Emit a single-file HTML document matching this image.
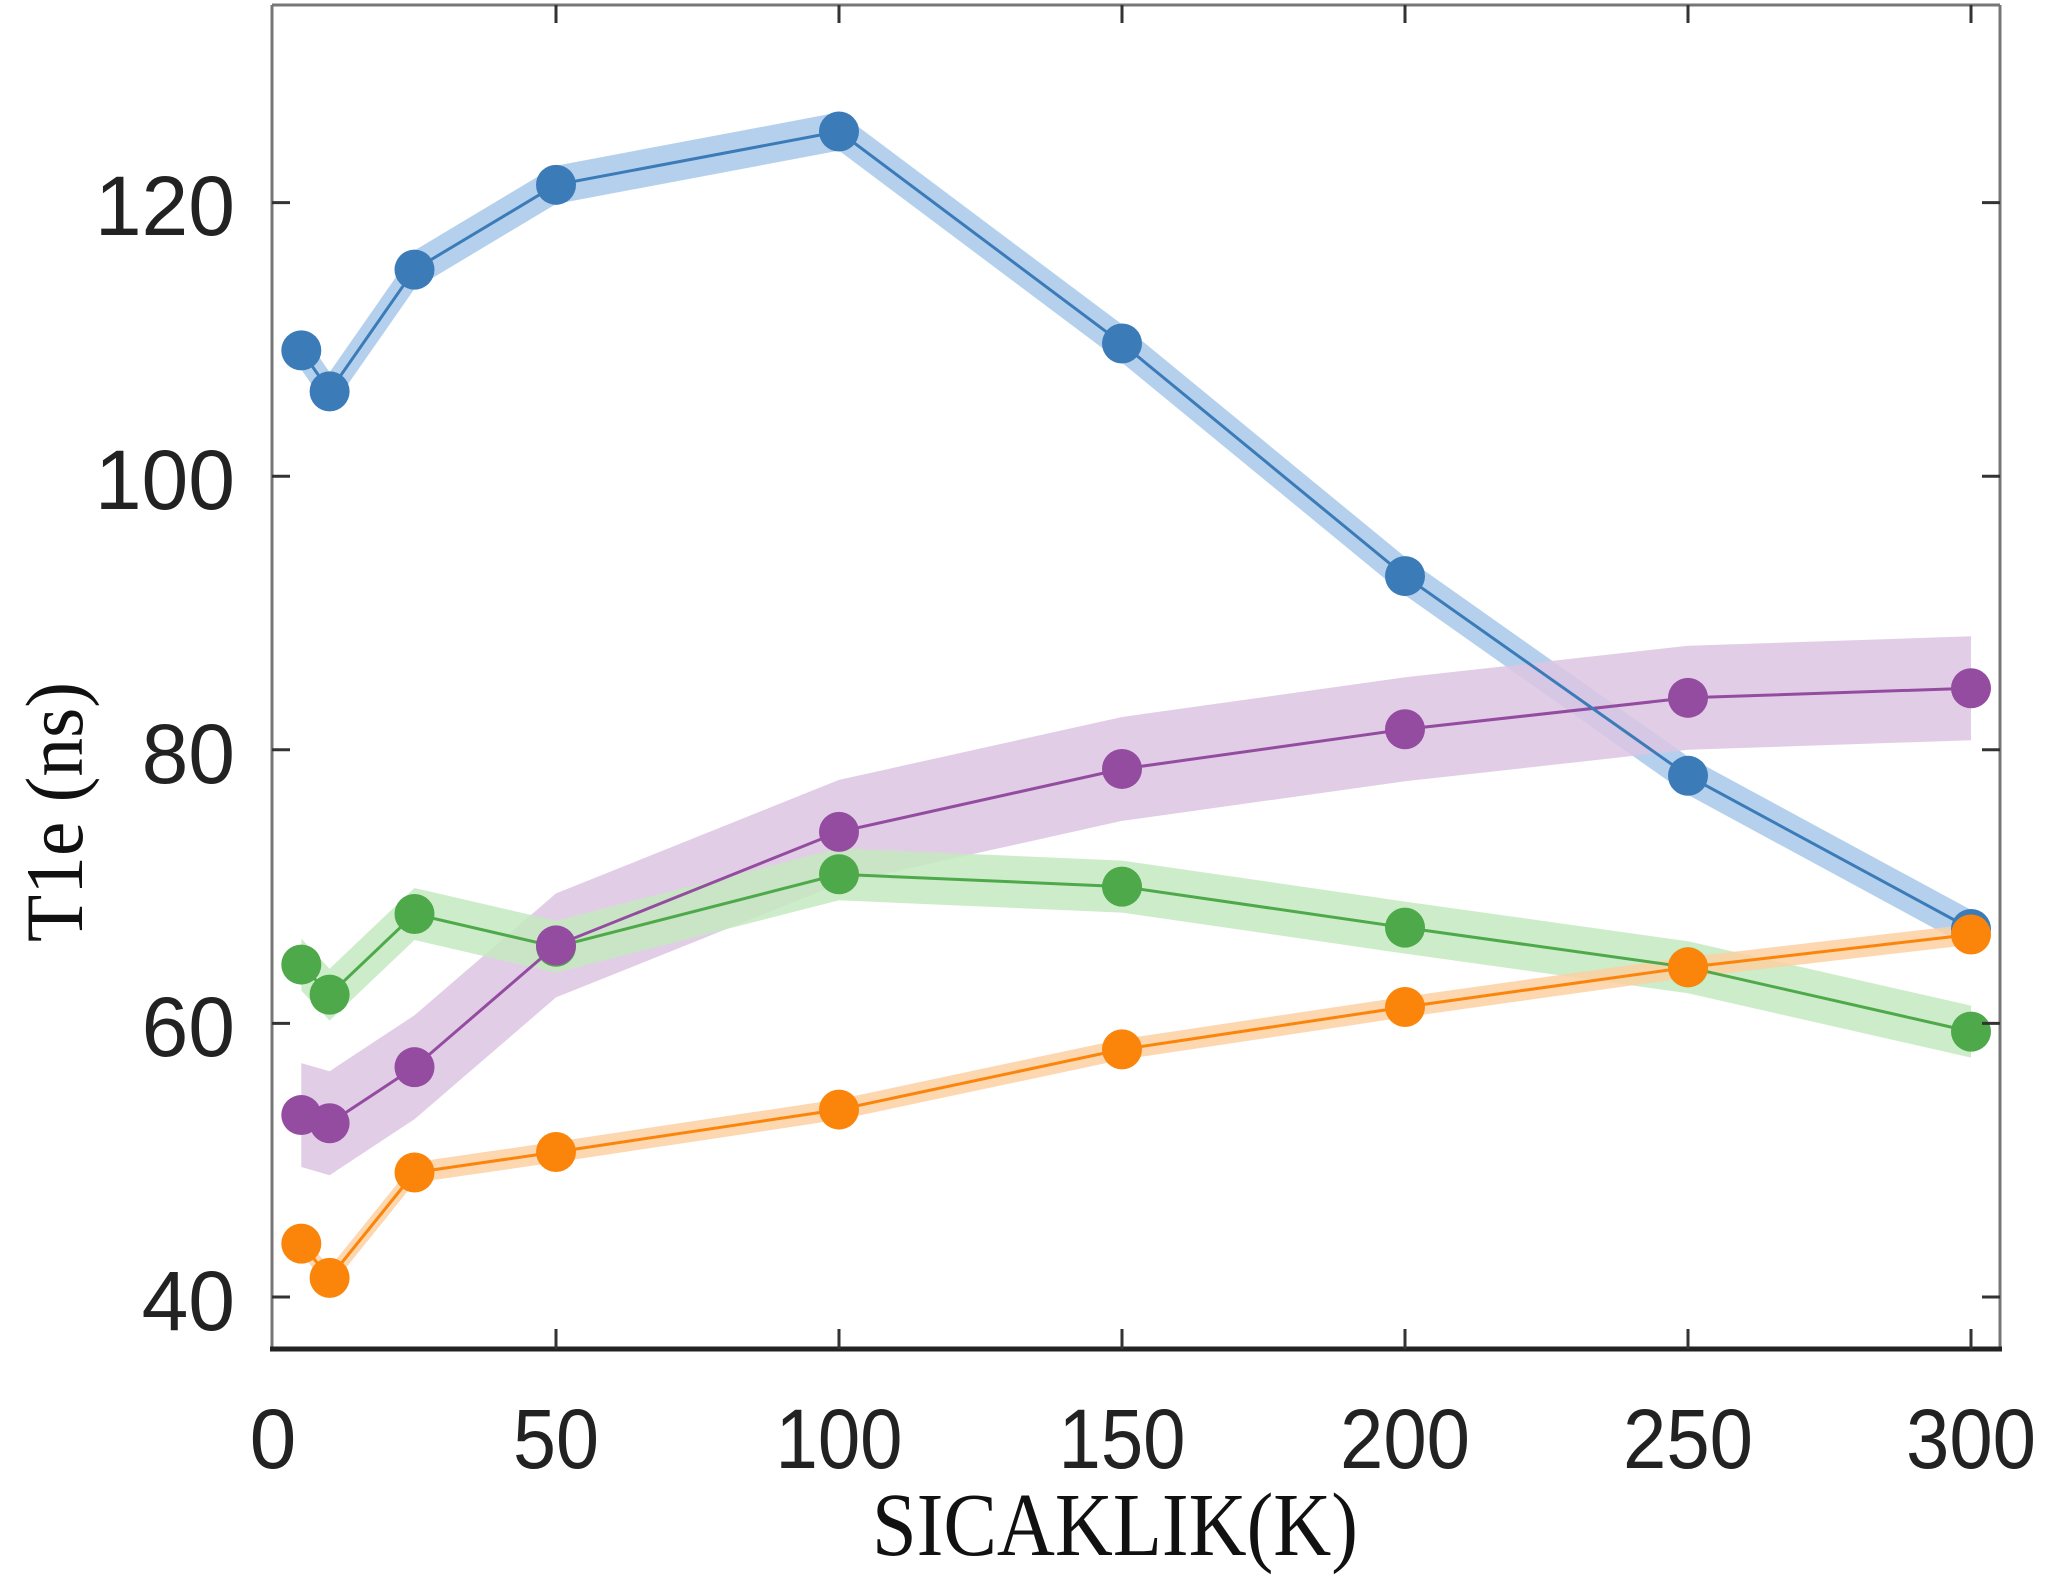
<!DOCTYPE html>
<html><head><meta charset="utf-8"><style>
html,body{margin:0;padding:0;background:#fff;}
svg{display:block;}
</style></head><body>
<svg id="s" width="2048" height="1594" viewBox="0 0 2048 1594" xmlns="http://www.w3.org/2000/svg">
<rect width="2048" height="1594" fill="#fff"/>
<g id="plot"></g>
<line x1="272" y1="5" x2="2000" y2="5" stroke="#777" stroke-width="3"/>
<line x1="272" y1="5" x2="272" y2="1350" stroke="#777" stroke-width="3"/>
<line x1="2000" y1="5" x2="2000" y2="1350" stroke="#777" stroke-width="3"/>
<line x1="270" y1="1349" x2="2002" y2="1349" stroke="#222" stroke-width="5"/>
<g id="ticks" stroke="#333" stroke-width="3"></g>
<g font-family="Liberation Sans, sans-serif" font-size="84" fill="#222" text-anchor="end">
<text x="235" y="235">120</text>
<text x="235" y="509">100</text>
<text x="235" y="783">80</text>
<text x="235" y="1056">60</text>
<text x="235" y="1330">40</text>
</g>
<g font-family="Liberation Sans, sans-serif" font-size="84" fill="#222" text-anchor="middle" lengthAdjust="spacingAndGlyphs">
<text x="273" y="1468">0</text>
<text x="556" y="1468" textLength="86" lengthAdjust="spacingAndGlyphs">50</text>
<text x="839" y="1468" textLength="127" lengthAdjust="spacingAndGlyphs">100</text>
<text x="1122" y="1468" textLength="127" lengthAdjust="spacingAndGlyphs">150</text>
<text x="1405" y="1468" textLength="130" lengthAdjust="spacingAndGlyphs">200</text>
<text x="1688" y="1468" textLength="130" lengthAdjust="spacingAndGlyphs">250</text>
<text x="1971" y="1468" textLength="130" lengthAdjust="spacingAndGlyphs">300</text>
</g>
<text x="1115" y="1555" font-family="Liberation Serif, serif" font-size="90" fill="#111" text-anchor="middle" textLength="486" lengthAdjust="spacingAndGlyphs">SICAKLIK(K)</text>
<text transform="translate(82,812) rotate(-90)" font-family="Liberation Serif, serif" font-size="82" fill="#111" text-anchor="middle" textLength="260" lengthAdjust="spacingAndGlyphs">T1e (ns)</text>
</svg>
<script>
(function(){
var NS="http://www.w3.org/2000/svg";
function X(v){return 273+v*5.66;}
function Y(v){return 1297-(v-40)*13.68;}
var xs=[5,10,25,50,100,150,200,250,300];
var series=[
 {c:"#3b7bb8",b:"#a8c8ea",w:1.4,y:[109.2,106.2,115.1,121.3,125.2,109.7,92.7,78.1,66.9]},
 {c:"#944ca0",b:"#dcc5e2",w:3.8,y:[53.3,52.7,56.8,65.7,74.0,78.6,81.5,83.8,84.5]},
 {c:"#4ea94a",b:"#c4e9c0",w:1.9,y:[64.3,62.1,68.0,65.6,70.9,70.0,67.0,64.1,59.4]},
 {c:"#fb850b",b:"#fcd0a2",w:0.75,y:[43.9,41.4,49.1,50.6,53.7,58.1,61.2,64.1,66.5]}
];
var plot=document.getElementById("plot");
function el(n,a){var e=document.createElementNS(NS,n);for(var k in a)e.setAttribute(k,a[k]);return e;}
series.forEach(function(s){
 var top=[],bot=[];
 for(var i=0;i<xs.length;i++){top.push(X(xs[i]).toFixed(1)+","+Y(s.y[i]+s.w).toFixed(1));bot.unshift(X(xs[i]).toFixed(1)+","+Y(s.y[i]-s.w).toFixed(1));}
 plot.appendChild(el("polygon",{points:top.concat(bot).join(" "),fill:s.b,"fill-opacity":"0.85"}));
});
[2,1,0,3].forEach(function(k){
 var s=series[k],pts=[];
 for(var i=0;i<xs.length;i++)pts.push(X(xs[i]).toFixed(1)+","+Y(s.y[i]).toFixed(1));
 plot.appendChild(el("polyline",{points:pts.join(" "),fill:"none",stroke:s.c,"stroke-width":3}));
 for(var i=0;i<xs.length;i++)plot.appendChild(el("circle",{cx:X(xs[i]),cy:Y(s.y[i]),r:20,fill:s.c}));
});
var t=document.getElementById("ticks");
[40,60,80,100,120].forEach(function(v){
 var y=Y(v);
 t.appendChild(el("line",{x1:272,y1:y,x2:290,y2:y}));
 t.appendChild(el("line",{x1:1982,y1:y,x2:2000,y2:y}));
});
[50,100,150,200,250,300].forEach(function(v){
 var x=X(v);
 t.appendChild(el("line",{x1:x,y1:1349,x2:x,y2:1329}));
 t.appendChild(el("line",{x1:x,y1:5,x2:x,y2:23}));
});
})();
</script>
</body></html>
